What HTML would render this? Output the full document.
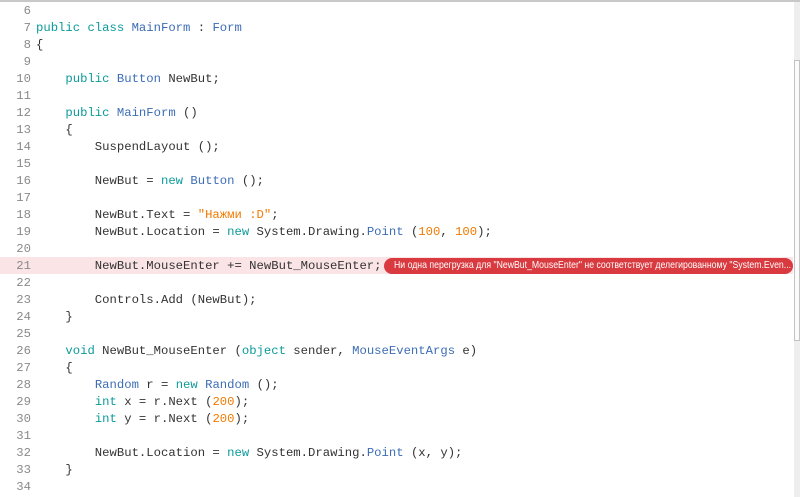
<!DOCTYPE html>
<html><head><meta charset="utf-8"><style>
body{margin:0;width:800px;height:497px;overflow:hidden;background:#fff;position:relative;font-family:"Liberation Mono",monospace;}
#top{position:absolute;left:0;top:0;width:800px;height:2px;background:#c8c8c8}
.hl{position:absolute;left:0;top:257px;width:793px;height:17px;background:#fbe4e5}
.l{position:absolute;left:0;height:17px;line-height:17px;font-size:12.25px;color:#333;white-space:pre}
.n{display:inline-block;width:31px;text-align:right;color:#8a8a8a;margin-right:5px}
.k{color:#0b9a9a}.t{color:#3d6db5}.s{color:#f27a00}
.err{position:absolute;left:384px;top:258px;width:409px;height:16px;border-radius:8px;background:#d83a3f;color:#fff;font-family:"Liberation Sans",sans-serif;font-size:10.2px;line-height:16px;padding-left:10px;box-sizing:border-box;white-space:nowrap;overflow:hidden}
.err span{display:inline-block;transform:scaleX(0.855);transform-origin:left center}
#sb{position:absolute;left:794px;top:2px;width:6px;height:495px;background:#eeeeee}
#th{position:absolute;left:794px;top:60px;width:6px;height:281px;background:#fbfbfb;border:1px solid #c2c2c2;box-sizing:border-box}
</style></head><body>
<div id="top"></div>
<div class="hl"></div>
<div class="l" style="top:3px"><span class="n">6</span></div>
<div class="l" style="top:20px"><span class="n">7</span><span class="k">public class</span> <span class="t">MainForm</span> : <span class="t">Form</span></div>
<div class="l" style="top:37px"><span class="n">8</span>{</div>
<div class="l" style="top:54px"><span class="n">9</span></div>
<div class="l" style="top:71px"><span class="n">10</span>    <span class="k">public</span> <span class="t">Button</span> NewBut;</div>
<div class="l" style="top:88px"><span class="n">11</span></div>
<div class="l" style="top:105px"><span class="n">12</span>    <span class="k">public</span> <span class="t">MainForm</span> ()</div>
<div class="l" style="top:122px"><span class="n">13</span>    {</div>
<div class="l" style="top:139px"><span class="n">14</span>        SuspendLayout ();</div>
<div class="l" style="top:156px"><span class="n">15</span></div>
<div class="l" style="top:173px"><span class="n">16</span>        NewBut = <span class="k">new</span> <span class="t">Button</span> ();</div>
<div class="l" style="top:190px"><span class="n">17</span></div>
<div class="l" style="top:207px"><span class="n">18</span>        NewBut.Text = <span class="s">"Нажми :D"</span>;</div>
<div class="l" style="top:224px"><span class="n">19</span>        NewBut.Location = <span class="k">new</span> System.Drawing.<span class="t">Point</span> (<span class="s">100</span>, <span class="s">100</span>);</div>
<div class="l" style="top:241px"><span class="n">20</span></div>
<div class="l" style="top:258px"><span class="n">21</span>        NewBut.MouseEnter += NewBut_MouseEnter;</div>
<div class="l" style="top:275px"><span class="n">22</span></div>
<div class="l" style="top:292px"><span class="n">23</span>        Controls.Add (NewBut);</div>
<div class="l" style="top:309px"><span class="n">24</span>    }</div>
<div class="l" style="top:326px"><span class="n">25</span></div>
<div class="l" style="top:343px"><span class="n">26</span>    <span class="k">void</span> NewBut_MouseEnter (<span class="k">object</span> sender, <span class="t">MouseEventArgs</span> e)</div>
<div class="l" style="top:360px"><span class="n">27</span>    {</div>
<div class="l" style="top:377px"><span class="n">28</span>        <span class="t">Random</span> r = <span class="k">new</span> <span class="t">Random</span> ();</div>
<div class="l" style="top:394px"><span class="n">29</span>        <span class="k">int</span> x = r.Next (<span class="s">200</span>);</div>
<div class="l" style="top:411px"><span class="n">30</span>        <span class="k">int</span> y = r.Next (<span class="s">200</span>);</div>
<div class="l" style="top:428px"><span class="n">31</span></div>
<div class="l" style="top:445px"><span class="n">32</span>        NewBut.Location = <span class="k">new</span> System.Drawing.<span class="t">Point</span> (x, y);</div>
<div class="l" style="top:462px"><span class="n">33</span>    }</div>
<div class="l" style="top:479px"><span class="n">34</span></div>
<div class="err"><span>Ни одна перегрузка для "NewBut_MouseEnter" не соответствует делегированному "System.Even...</span></div>
<div id="sb"></div><div id="th"></div>
</body></html>
